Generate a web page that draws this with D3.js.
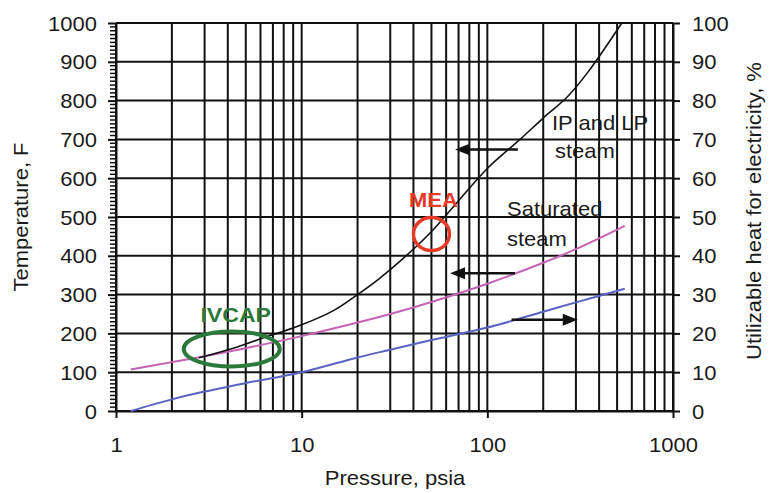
<!DOCTYPE html>
<html><head><meta charset="utf-8">
<script src="https://cdn.jsdelivr.net/npm/d3@7"></script>
<style>
body{margin:0;background:#fff;}
text{font-family:"Liberation Sans",Arial,sans-serif;}
</style></head>
<body><svg id="c" width="770" height="493"></svg>
<script>
// ---- data ----
const leftTicks = [0,100,200,300,400,500,600,700,800,900,1000];
const rightTicks = [0,10,20,30,40,50,60,70,80,90,100];
const xTicks = [1,10,100,1000];
const xTickLabels = ["1","10","100","1000"];
// IP and LP steam (left axis, F)
const ipP = [2.8,4.5,6.7,7.6,10,15,20,26,35,49,68,100,150,200,270,349,530];
const ipT = [137,165,194,202,222,260,300,340,392,458,535,625,700,755,810,874,1000];
// Saturated steam (left axis, F)
const satP = [1.2,2,3,5,10,20,30,50,100,200,300,550];
const satT = [107,126,141,162,193,228,250,281,328,382,417,477];
// Utilizable heat for electricity (right axis, %)
const heatP = [1.2,2,3,5,10,20,30,50,100,200,300,550];
const heatPct = [0,3,5,7.2,10,13.8,15.8,18.3,21.5,25.6,28,31.5];
// annotations
const arrowsLeft = [{p1:146,p2:67,T:674},{p1:141,p2:63,T:355}];
const arrowsRight = [{p1:135,p2:307,pct:23.5}];
const meaPoint = {p:50, T:456};
const ivcapPoint = {p:4.2, T:160};

const svg = d3.select("#c");
const x = d3.scaleLog().domain([1,1000]).range([116,673]);
const yL = d3.scaleLinear().domain([0,1000]).range([411,23]);
const yR = d3.scaleLinear().domain([0,100]).range([411,23]);
const SX = 1.1; // horizontal stretch of text
const FS = 20;

// grid
const gridX = [];
for (let d=1; d<1000; d*=10) for (let k=1;k<10;k++) gridX.push(d*k);
gridX.push(1000);
svg.append("g").selectAll("line").data(gridX).join("line")
  .attr("x1",d=>x(d)).attr("x2",d=>x(d)).attr("y1",yL(1000)).attr("y2",yL(0))
  .attr("stroke","#111").attr("stroke-width",2);
svg.append("g").selectAll("line").data(leftTicks).join("line")
  .attr("x1",x(1)).attr("x2",x(1000)).attr("y1",d=>yL(d)).attr("y2",d=>yL(d))
  .attr("stroke","#111").attr("stroke-width",2);

// minor ticks on left axis
const minor = d3.range(10,1000,10).filter(v=>v%100!==0);
svg.append("g").selectAll("line").data(minor).join("line")
  .attr("x1",x(1)-6).attr("x2",x(1)+1).attr("y1",d=>yL(d)).attr("y2",d=>yL(d))
  .attr("stroke","#111").attr("stroke-width",1.5);

function styleAxis(g){
  g.selectAll("path.domain").attr("stroke","#111").attr("stroke-width",2);
  g.selectAll(".tick line").attr("stroke","#111").attr("stroke-width",2);
  g.selectAll("text").attr("font-size",FS).attr("fill","#1a1a1a")
   .style("font-family","Liberation Sans, Arial, sans-serif");
}

// left axis
const gL = svg.append("g").attr("transform",`translate(${x(1)},0)`)
  .call(d3.axisLeft(yL).tickValues(leftTicks).tickSize(8).tickSizeOuter(0).tickFormat(d3.format("d")));
styleAxis(gL);
gL.selectAll(".tick text").attr("x",null).attr("dy",null)
  .attr("text-anchor","end").attr("dominant-baseline","central")
  .attr("transform","translate(-19,0) scale("+SX+",1)");

// right axis
const gR = svg.append("g").attr("transform",`translate(${x(1000)},0)`)
  .call(d3.axisRight(yR).tickValues(rightTicks).tickSize(7).tickSizeOuter(0).tickFormat(d3.format("d")));
styleAxis(gR);
gR.selectAll(".tick text").attr("x",null).attr("dy",null)
  .attr("text-anchor","start").attr("dominant-baseline","central")
  .attr("transform","translate(19,0) scale("+SX+",1)");

// bottom axis
const gB = svg.append("g").attr("transform",`translate(0,${yL(0)})`)
  .call(d3.axisBottom(x).tickValues(xTicks).tickSize(7).tickSizeOuter(0).tickFormat((d,i)=>xTickLabels[i]));
styleAxis(gB);
gB.selectAll(".tick text").attr("y",null).attr("dy",null)
  .attr("text-anchor","middle")
  .attr("transform","translate(0,41) scale("+SX+",1)");

// curves
const lineL = d3.line().x(d=>x(d[0])).y(d=>yL(d[1])).curve(d3.curveCatmullRom.alpha(0.5));
const lineR = d3.line().x(d=>x(d[0])).y(d=>yR(d[1])).curve(d3.curveCatmullRom.alpha(0.5));
svg.append("path").datum(satP.map((p,i)=>[p,satT[i]])).attr("d",lineL)
  .attr("fill","none").attr("stroke","#c462b4").attr("stroke-width",2);
svg.append("path").datum(heatP.map((p,i)=>[p,heatPct[i]])).attr("d",lineR)
  .attr("fill","none").attr("stroke","#5a62c4").attr("stroke-width",2);
svg.append("path").datum(ipP.map((p,i)=>[p,ipT[i]])).attr("d",lineL)
  .attr("fill","none").attr("stroke","#111").attr("stroke-width",1.6);

// arrows
function arrow(x1,x2,y){
  const dir = Math.sign(x2-x1), hl=15, hw=6;
  svg.append("line").attr("x1",x1).attr("x2",x2-dir*hl+dir).attr("y1",y).attr("y2",y)
    .attr("stroke","#111").attr("stroke-width",2.5);
  svg.append("path").attr("d",`M${x2},${y}L${x2-dir*hl},${y-hw}L${x2-dir*hl},${y+hw}Z`).attr("fill","#111");
}
arrowsLeft.forEach(a=>arrow(x(a.p1),x(a.p2),yL(a.T)));
arrowsRight.forEach(a=>arrow(x(a.p1),x(a.p2),yR(a.pct)));

// text helper
function txt(str,tx,ty,opts={}){
  const t = svg.append("text").text(str)
    .attr("transform",`translate(${tx},${ty}) ${opts.rot?`rotate(${opts.rot})`:""} scale(${SX},1)`)
    .attr("font-size",opts.fs||FS).attr("fill",opts.fill||"#1a1a1a")
    .attr("text-anchor",opts.anchor||"start");
  if(opts.bold) t.attr("font-weight","bold");
  return t;
}
// labels on curves
txt("IP and LP",552,130);
txt("steam",555,158);
txt("Saturated",507,216);
txt("steam",507,246);

// MEA
svg.append("ellipse").attr("cx",x(meaPoint.p)).attr("cy",yL(meaPoint.T))
  .attr("rx",18).attr("ry",16.5).attr("fill","none").attr("stroke","#e63a26").attr("stroke-width",3.5);
txt("MEA",x(meaPoint.p)+2,yL(meaPoint.T)-27,{bold:true,fill:"#e63a26",anchor:"middle"});
// IVCAP
svg.append("ellipse").attr("cx",x(ivcapPoint.p)).attr("cy",yL(ivcapPoint.T))
  .attr("rx",48).attr("ry",17.5).attr("fill","none").attr("stroke","#2b7a3b").attr("stroke-width",4);
txt("IVCAP",x(ivcapPoint.p)+4,yL(ivcapPoint.T)-27,{bold:true,fill:"#2b7a3b",anchor:"middle",fs:21});

// axis titles
txt("Temperature, F",28,217,{rot:-90,anchor:"middle"});
txt("Utilizable heat for electricity, %",761,211,{rot:-90,anchor:"middle"});
txt("Pressure, psia",395,485,{anchor:"middle"});
</script></body></html>
